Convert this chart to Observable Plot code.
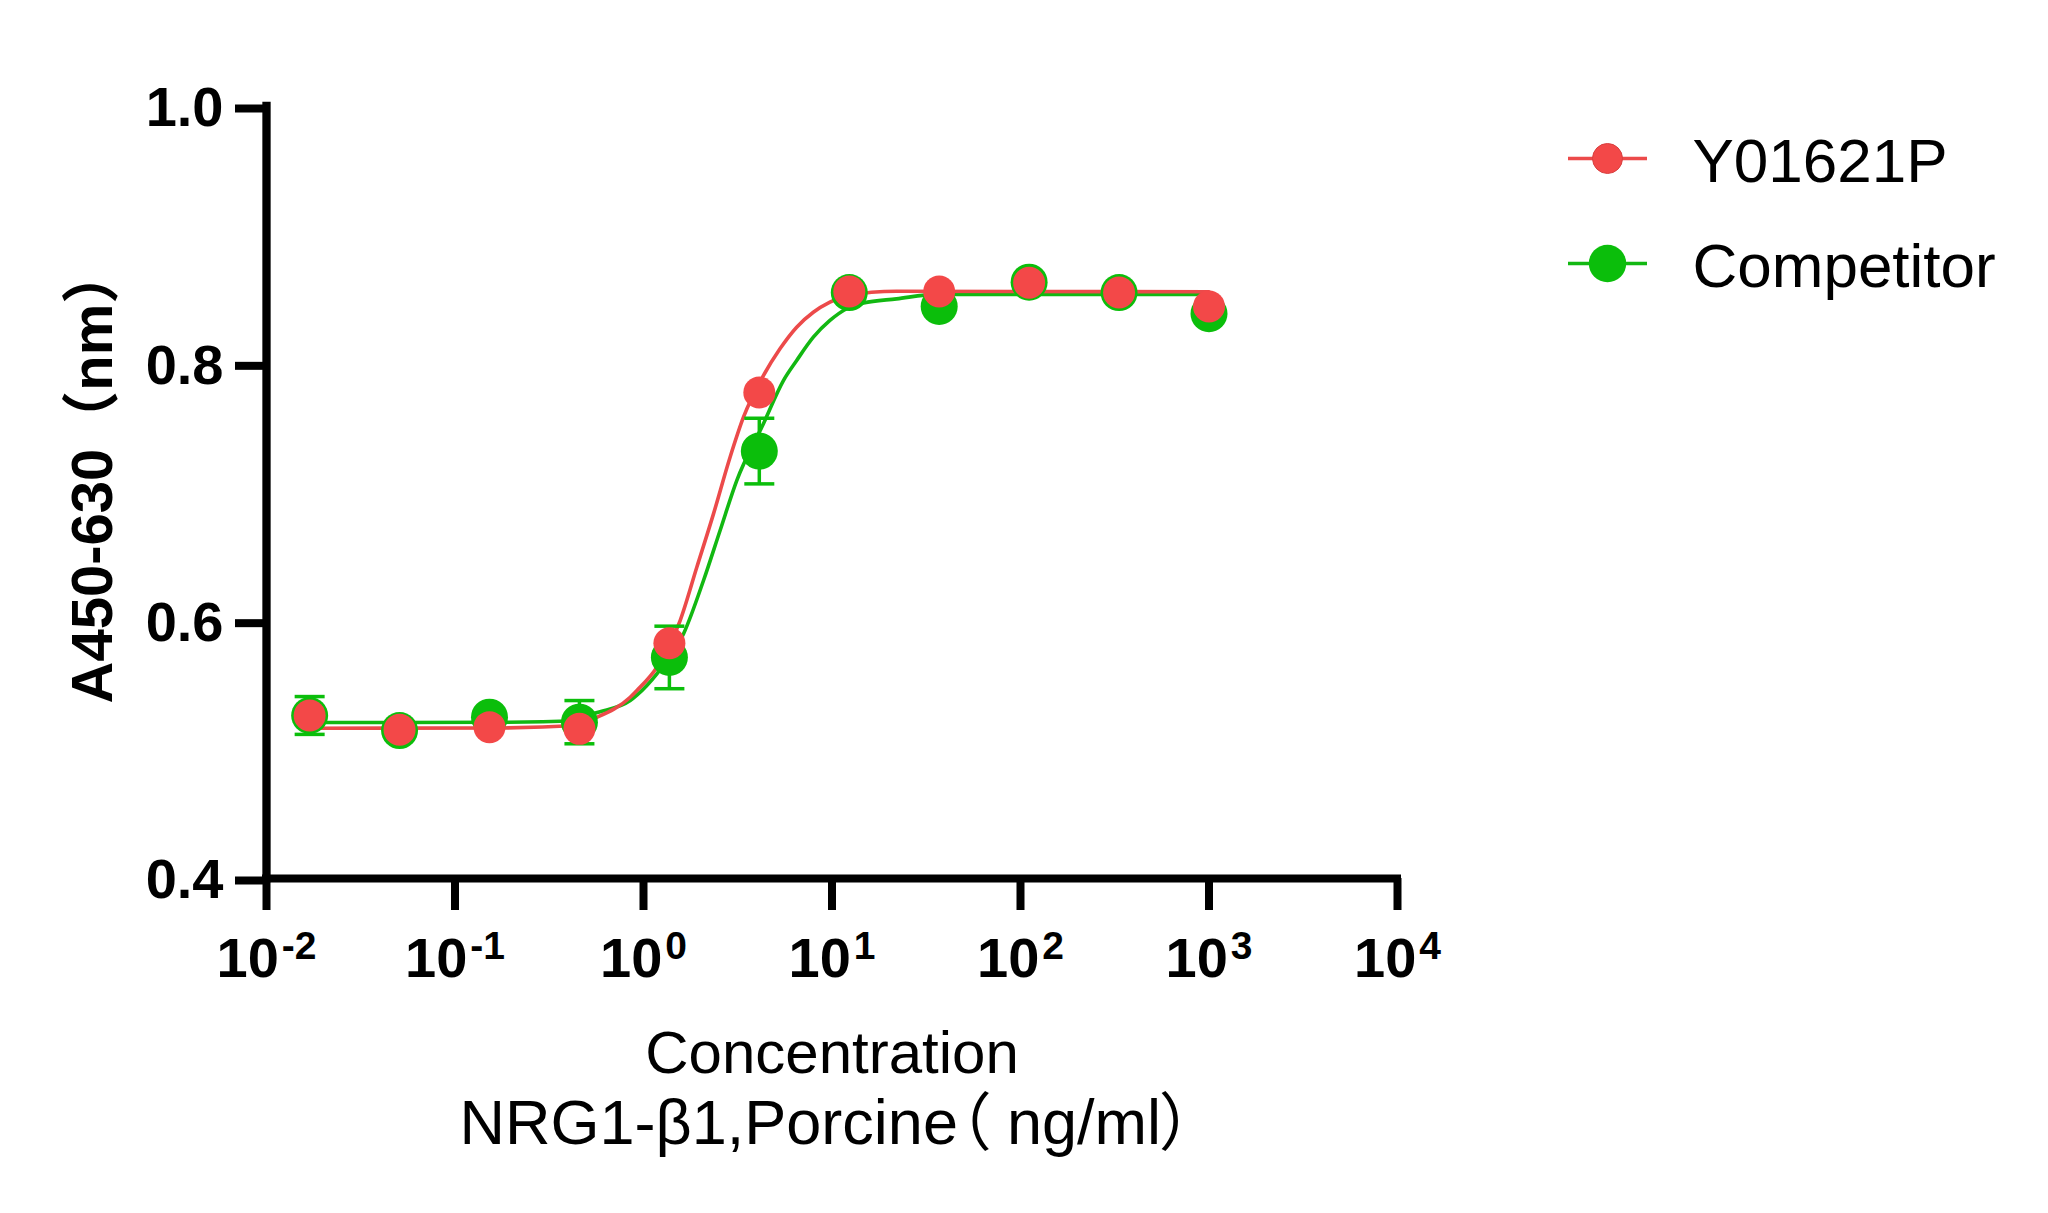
<!DOCTYPE html>
<html>
<head>
<meta charset="utf-8">
<script src="https://cdn.jsdelivr.net/npm/d3@7"></script>
<script src="https://cdn.jsdelivr.net/npm/@observablehq/plot@0.6"></script>
<style>
  html, body { margin: 0; padding: 0; background: #fff; }
  .xtitle2 text { font-feature-settings: "palt" 1; }
</style>
</head>
<body>
<div id="chart"></div>
<script>
// ---- data ----
const concentration = [0.01694, 0.0508, 0.1524, 0.4572, 1.372, 4.115, 12.35, 37.04, 111.1, 333.3, 1000];
const y01621P = [0.5267, 0.5156, 0.5176, 0.5163, 0.5828, 0.7777, 0.8562, 0.8562, 0.8630, 0.8554, 0.8446];
const competitor = [0.5267, 0.5150, 0.5254, 0.5215, 0.5718, 0.7322, 0.8554, 0.8446, 0.8635, 0.8554, 0.8390];
const competitorErr = [0.0147, 0, 0, 0.0168, 0.0243, 0.0255, 0, 0, 0, 0, 0];

// fitted curves
const redCurveX = [0.01694, 0.1675, 0.4385, 0.546, 0.8502, 0.9226, 1.1776, 1.5645, 1.9178, 2.3511, 2.8791, 3.3905, 4.326, 5.297, 6.494, 7.96, 9.75, 11.95, 21.99, 100, 1000];
const redCurveY = [0.5168, 0.5170, 0.5189, 0.5243, 0.5409, 0.5461, 0.5642, 0.6005, 0.6419, 0.6834, 0.7274, 0.7585, 0.7909, 0.8117, 0.8285, 0.8401, 0.8479, 0.8531, 0.8564, 0.8562, 0.8560];
const greenCurveX = [0.01694, 0.1675, 0.4385, 0.546, 0.8502, 0.9226, 1.1776, 1.6312, 2.0812, 2.5487, 3.1238, 4.326, 5.523, 6.494, 7.96, 9.75, 11.95, 14.7, 21.99, 35.8, 1000];
const greenCurveY = [0.5212, 0.5214, 0.5228, 0.5282, 0.5383, 0.5425, 0.5591, 0.5902, 0.6316, 0.6705, 0.7093, 0.7534, 0.7870, 0.8026, 0.8207, 0.8337, 0.8428, 0.8473, 0.8505, 0.8540, 0.8540];

const xTicks = [1e-2, 1e-1, 1e0, 1e1, 1e2, 1e3, 1e4];
const xTickExp = ["-2", "-1", "0", "1", "2", "3", "4"];
const yTicks = [0.4, 0.6, 0.8, 1.0];
const seriesNames = ["Y01621P", "Competitor"];
const xTitle1 = "Concentration";
const xTitle2 = "NRG1-β1,Porcine（ ng/ml）";
const yTitle = "A450-630（nm）";

// ---- styling ----
const RED = "#F34848";
const RED_LINE = "#EC4A4A";
const GREEN = "#0BBE0B";
const GREEN_LINE = "#12B812";
const FONT = "'Liberation Sans', Arial, 'Noto Sans CJK SC', sans-serif";
const ML = 266;

const redPts = concentration.map((c, i) => ({x: c, y: y01621P[i]}));
const greenPts = concentration.map((c, i) => ({x: c, y: competitor[i], e: competitorErr[i]}));
const greenErr = greenPts.filter(d => d.e > 0);
const redCurve = redCurveX.map((c, i) => ({x: c, y: redCurveY[i]}));
const greenCurve = greenCurveX.map((c, i) => ({x: c, y: greenCurveY[i]}));

// horizontal bar symbol (error-bar caps and legend lines)
const hbar = {
  draw(context, size) {
    const w = Math.sqrt(size / Math.PI);
    context.moveTo(-w, 0);
    context.lineTo(w, 0);
  }
};

const marks = [];

// axes lines
marks.push(Plot.ruleX([0.01], {y1: 0.4, y2: 1.0, stroke: "black", strokeWidth: 8.3, strokeLinecap: "square"}));
marks.push(Plot.ruleY([0.4], {x1: 0.01, x2: 1e4, stroke: "black", strokeWidth: 8, strokeLinecap: "square"}));
marks.push(Plot.axisY({
  ticks: yTicks, tickSize: 31, tickPadding: 12, strokeWidth: 8, stroke: "black",
  fontSize: 56, fontWeight: "bold", fill: "black", dy: 2,
  tickFormat: d => d.toFixed(1), label: null
}));
marks.push(Plot.axisX({
  ticks: xTicks, tickSize: 32, strokeWidth: 8, stroke: "black",
  tickFormat: () => "", label: null
}));

// x tick labels as 10^n
const fs10 = 56, fsExp = 39, gap = 3;
xTicks.forEach((t, i) => {
  const exp = xTickExp[i];
  const wExp = [...exp].reduce((s, c) => s + (c === "-" ? 0.333 : 0.556), 0) * fsExp;
  const w10 = 1.112 * fs10;
  const start = -(w10 + gap + wExp) / 2;
  marks.push(Plot.text([t], {x: d => d, frameAnchor: "bottom", text: () => "10", textAnchor: "start",
    dx: start, dy: 98, lineAnchor: "bottom", fontSize: fs10, fontWeight: "bold", fill: "black"}));
  marks.push(Plot.text([t], {x: d => d, frameAnchor: "bottom", text: () => exp, textAnchor: "start",
    dx: start + w10 + gap, dy: 80, lineAnchor: "bottom", fontSize: fsExp, fontWeight: "bold", fill: "black"}));
});

// axis titles
marks.push(Plot.text([xTitle1], {text: d => d, frameAnchor: "bottom", dy: 194, lineAnchor: "bottom",
  fontSize: 60, fill: "black", textAnchor: "middle"}));
marks.push(Plot.text([xTitle2], {text: d => d, frameAnchor: "bottom", dy: 265, dx: -6, lineAnchor: "bottom",
  fontSize: 63, fill: "black", textAnchor: "middle", className: "xtitle2"}));
marks.push(Plot.text([yTitle], {text: d => d, frameAnchor: "left", rotate: -90, dx: 111.7 - ML, dy: -18, lineAnchor: "bottom",
  fontSize: 58, fontWeight: "bold", fill: "black", textAnchor: "middle"}));

// curves
marks.push(Plot.line(greenCurve, {x: "x", y: "y", stroke: GREEN_LINE, strokeWidth: 3.6, curve: "monotone-x"}));
marks.push(Plot.line(redCurve, {x: "x", y: "y", stroke: RED_LINE, strokeWidth: 3.6, curve: "monotone-x"}));

// error bars (competitor)
marks.push(Plot.ruleX(greenErr, {x: "x", y1: d => d.y - d.e, y2: d => d.y + d.e, stroke: GREEN, strokeWidth: 3.5}));
marks.push(Plot.dot(greenErr, {x: "x", y: d => d.y + d.e, symbol: hbar, r: 15, fill: "none", stroke: GREEN, strokeWidth: 3.5}));
marks.push(Plot.dot(greenErr, {x: "x", y: d => d.y - d.e, symbol: hbar, r: 15, fill: "none", stroke: GREEN, strokeWidth: 3.5}));

// points
marks.push(Plot.dot(greenPts, {x: "x", y: "y", r: 18.5, fill: GREEN, stroke: "none"}));
marks.push(Plot.dot(redPts, {x: "x", y: "y", r: 16, fill: RED, stroke: "none"}));

// legend (offsets from the frame's top-left corner)
const legendColors = [[RED_LINE, RED, 15], [GREEN_LINE, GREEN, 18.7]];
const legendRowDy = [52, 157];
seriesNames.forEach((name, i) => {
  const [lc, fc, r] = legendColors[i];
  marks.push(Plot.dot([name], {frameAnchor: "top-left", dx: 1607 - ML, dy: legendRowDy[i], symbol: hbar, r: 39.5,
    fill: "none", stroke: lc, strokeWidth: 3.6}));
  marks.push(Plot.dot([name], {frameAnchor: "top-left", dx: 1607 - ML, dy: legendRowDy[i], r: r, fill: fc,
    stroke: i === 0 ? "#D84040" : "none", strokeWidth: 1}));
  marks.push(Plot.text([name], {text: d => d, frameAnchor: "top-left", dx: 1692 - ML, dy: legendRowDy[i] + 23,
    lineAnchor: "bottom", textAnchor: "start", fontSize: 62, fill: "black"}));
});

const chart = Plot.plot({
  width: 2048,
  height: 1213,
  marginLeft: ML,
  marginRight: 651,
  marginTop: 106,
  marginBottom: 335,
  x: {type: "log", domain: [0.01, 1e4]},
  y: {domain: [0.4, 1.0]},
  style: {fontFamily: FONT, background: "white", color: "black"},
  marks
});
document.getElementById("chart").appendChild(chart);
</script>
</body>
</html>
